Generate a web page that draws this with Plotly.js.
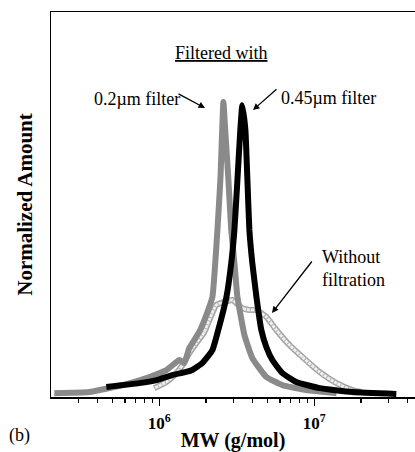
<!DOCTYPE html>
<html>
<head>
<meta charset="utf-8">
<script src="https://cdn.plot.ly/plotly-3.0.1.min.js"></script>
<style>html,body{margin:0;padding:0;background:#fff;}#chart{width:415px;height:452px;}</style>
</head>
<body>
<div id="chart"></div>
<script>
// 0.2 µm filter
const mw02 = [2.10e5, 3.53e5, 5.77e5, 8.24e5, 1.11e6, 1.29e6, 1.35e6, 1.45e6, 1.56e6, 1.81e6, 2.01e6, 2.20e6, 2.37e6, 2.48e6, 2.59e6, 2.66e6, 2.79e6, 2.91e6, 3.05e6, 3.19e6, 3.54e6, 3.98e6, 4.90e6, 6.22e6, 8.88e6, 1.39e7];
const amt02 = [0.010, 0.013, 0.031, 0.049, 0.070, 0.091, 0.096, 0.088, 0.127, 0.169, 0.213, 0.260, 0.434, 0.570, 0.766, 0.694, 0.564, 0.434, 0.348, 0.260, 0.161, 0.101, 0.052, 0.031, 0.018, 0.010];
// 0.45 µm filter
const mw045 = [4.55e5, 7.43e5, 9.57e5, 1.21e6, 1.49e6, 1.63e6, 1.89e6, 2.20e6, 2.37e6, 2.71e6, 2.91e6, 3.05e6, 3.19e6, 3.33e6, 3.43e6, 3.59e6, 3.70e6, 3.81e6, 3.98e6, 4.23e6, 4.55e6, 4.90e6, 5.36e6, 6.22e6, 7.65e6, 1.08e7, 1.76e7, 3.38e7];
const amt045 = [0.026, 0.036, 0.044, 0.057, 0.065, 0.070, 0.088, 0.122, 0.166, 0.260, 0.348, 0.434, 0.564, 0.694, 0.758, 0.694, 0.564, 0.434, 0.348, 0.260, 0.174, 0.130, 0.096, 0.062, 0.039, 0.023, 0.013, 0.008];
// Without filtration
const mwNone = [9.28e5, 1.11e6, 1.29e6, 1.41e6, 1.56e6, 1.73e6, 1.95e6, 2.10e6, 2.33e6, 2.63e6, 2.96e6, 3.43e6, 3.81e6, 4.23e6, 4.90e6, 5.69e6, 6.90e6, 8.37e6, 1.08e7, 1.39e7, 1.76e7, 2.01e7];
const amtNone = [0.023, 0.039, 0.062, 0.083, 0.114, 0.140, 0.169, 0.200, 0.239, 0.247, 0.252, 0.231, 0.226, 0.226, 0.208, 0.174, 0.135, 0.104, 0.065, 0.036, 0.018, 0.013];

const majorTicks = [1e6, 1e7];
const majorText = ['<b>10<sup>6</sup></b>', '<b>10<sup>7</sup></b>'];
const minorTicks = [3e5, 4e5, 5e5, 6e5, 7e5, 8e5, 9e5, 2e6, 3e6, 4e6, 5e6, 6e6, 7e6, 8e6, 9e6, 2e7, 3e7, 4e7];

const FONT = 'Liberation Serif, Times New Roman, serif';

const traces = [
  {x: mwNone, y: amtNone, mode: 'lines', line: {color: '#a0a0a0', width: 6, shape: 'spline', smoothing: 0.5}, hoverinfo: 'skip'},
  {x: mwNone, y: amtNone, mode: 'lines', line: {color: '#efefef', width: 3, shape: 'spline', smoothing: 0.5}, hoverinfo: 'skip'},
  {x: mwNone, y: amtNone, mode: 'lines', line: {color: '#b4b4b4', width: 6, dash: '1px,3px', shape: 'spline', smoothing: 0.5}, name: 'Without filtration'},
  {x: mw02, y: amt02, mode: 'lines', line: {color: '#8a8a8a', width: 6, shape: 'spline', smoothing: 0.4}, name: '0.2µm filter'},
  {x: mw045, y: amt045, mode: 'lines', line: {color: '#000000', width: 6, shape: 'spline', smoothing: 0.4}, name: '0.45µm filter'}
];

const L = 51, T = 12, W = 364, H = 385;
function px(x) { return (x - L) / W; }
function py(y) { return (T + H - y) / H; }

const txt = (x, y, text, extra) => Object.assign({xref: 'paper', yref: 'paper', x: px(x), y: py(y), xanchor: 'center', yanchor: 'middle', text: text, showarrow: false, font: {family: FONT, size: 18, color: '#000'}}, extra || {});
const arrow = (x, y, ax, ay) => ({xref: 'paper', yref: 'paper', x: px(x), y: py(y), text: '', showarrow: true, arrowhead: 2, arrowsize: 1, arrowwidth: 1.3, arrowcolor: '#000', ax: ax, ay: ay});

const annotations = [
  txt(221, 53, '<u>Filtered with</u>'),
  txt(137, 99, '0.2µm filter'),
  txt(328, 98, '0.45µm filter'),
  txt(320, 268, 'Without<br>filtration', {xanchor: 'left', align: 'left'}),
  arrow(205, 108, -28, -15),
  arrow(253, 110, 25, -22),
  arrow(272, 313, 41, -53),
  txt(19, 436, '(b)')
];

const layout = {
  width: 415, height: 452,
  margin: {l: L, r: 0, t: T, b: 452 - T - H, pad: 0},
  paper_bgcolor: '#fff', plot_bgcolor: '#fff',
  showlegend: false,
  font: {family: FONT, color: '#000'},
  xaxis: {
    type: 'log', range: [Math.log10(2e5), Math.log10(2e5) + W / 155],
    showline: true, linecolor: '#000', linewidth: 1.5, mirror: true,
    showgrid: false, zeroline: false,
    tickmode: 'array', tickvals: majorTicks, ticktext: majorText,
    ticks: 'outside', ticklen: 7, tickwidth: 1.3, tickcolor: '#000',
    ticklabelstandoff: 3,
    tickfont: {family: FONT, size: 17, color: '#000'},
    minor: {tickmode: 'array', tickvals: minorTicks, ticks: 'outside', ticklen: 4, tickwidth: 1.1, tickcolor: '#000', showgrid: false},
    title: {text: '<b>MW (g/mol)</b>', font: {family: FONT, size: 20, color: '#000'}, standoff: 4}
  },
  yaxis: {
    range: [0, 1], showline: true, linecolor: '#000', linewidth: 1.5,
    showgrid: false, zeroline: false, ticks: '', showticklabels: false,
    title: {text: '<b>Normalized Amount</b>', font: {family: FONT, size: 21, color: '#000'}, standoff: 11}
  },
  annotations: annotations
};

Plotly.newPlot('chart', traces, layout, {displayModeBar: false, staticPlot: true});
</script>
</body>
</html>
